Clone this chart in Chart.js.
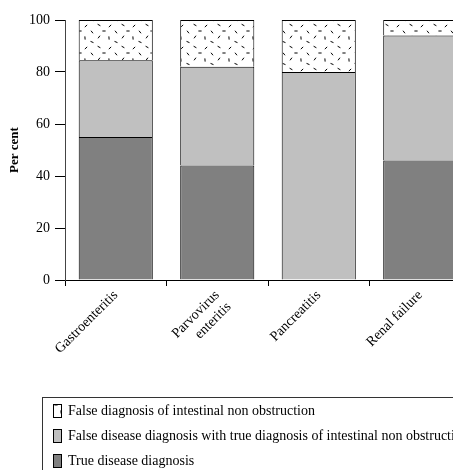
<!DOCTYPE html>
<html>
<head>
<meta charset="utf-8">
<script src="https://cdn.jsdelivr.net/npm/chart.js@4.4.0/dist/chart.umd.min.js"></script>
<style>
    html, body { margin: 0; padding: 0; background: #fff; overflow: hidden; }
</style>
</head>
<body>
<canvas id="diagnosisChart" width="500" height="470"></canvas>
<script>
// Chart data (per cent of cases)
const categories = ['Gastroenteritis', ['Parvovirus', 'enteritis'], 'Pancreatitis', 'Renal failure'];
const trueDisease = [55, 44, 0, 46];
const falseDiseaseTrueObstruction = [29.5, 38, 80, 48];
const falseObstruction = [15.5, 18, 20, 6];
const yTicks = [0, 20, 40, 60, 80, 100];
const seriesNames = [
    'True disease diagnosis',
    'False disease diagnosis with true diagnosis of intestinal non obstruction',
    'False diagnosis of intestinal non obstruction'
];

const serif = 'Liberation Serif, Times New Roman, serif';

// White fill with small scattered dashes
function makeDashPattern() {
    const c = document.createElement('canvas');
    c.width = 24;
    c.height = 22;
    const g = c.getContext('2d');
    g.fillStyle = '#fff';
    g.fillRect(0, 0, c.width, c.height);
    g.strokeStyle = '#000';
    g.lineWidth = 1;
    const dashes = [[3, 3, 0.5], [14, 4, 2.4], [8, 9, 0], [20, 10, 0.9], [3, 15, 2.2], [13, 16, 1.5], [20, 20, 0.4]];
    dashes.forEach(function(d) {
        const dx = Math.cos(d[2]) * 1.6, dy = Math.sin(d[2]) * 1.6;
        g.beginPath();
        g.moveTo(d[0] - dx, d[1] - dy);
        g.lineTo(d[0] + dx, d[1] + dy);
        g.stroke();
    });
    return g.createPattern(c, 'repeat');
}

// Framed legend below the plot
const framedLegend = {
    id: 'framedLegend',
    afterDraw(chart) {
        const ctx = chart.ctx;
        const left = 42, top = 397;
        ctx.save();
        ctx.strokeStyle = '#333';
        ctx.lineWidth = 1;
        ctx.strokeRect(left + 0.5, top + 0.5, 600, 200);
        ctx.font = '14px ' + serif;
        ctx.textBaseline = 'middle';
        const sets = chart.data.datasets.slice().reverse();
        sets.forEach(function(ds, i) {
            const y = top + 7 + i * 25;
            ctx.fillStyle = ds.backgroundColor;
            ctx.fillRect(left + 11.5, y + 0.5, 8, 13);
            ctx.strokeStyle = '#000';
            ctx.strokeRect(left + 11.5, y + 0.5, 8, 13);
            ctx.fillStyle = '#000';
            ctx.fillText(ds.label, left + 26, y + 7.5);
        });
        ctx.restore();
    }
};

document.addEventListener('DOMContentLoaded', function() {
    const ctx = document.getElementById('diagnosisChart');
    const barStyle = {
        borderColor: '#000',
        borderWidth: 1,
        borderSkipped: 'start',
        categoryPercentage: 1,
        barPercentage: 0.73
    };

    new Chart(ctx, {
        type: 'bar',
        data: {
            labels: categories,
            datasets: [
                Object.assign({ label: seriesNames[0], data: trueDisease, backgroundColor: '#808080' }, barStyle),
                Object.assign({ label: seriesNames[1], data: falseDiseaseTrueObstruction, backgroundColor: '#c0c0c0' }, barStyle),
                Object.assign({ label: seriesNames[2], data: falseObstruction, backgroundColor: makeDashPattern() }, barStyle)
            ]
        },
        options: {
            responsive: false,
            animation: false,
            layout: { padding: { top: 20, right: 29, bottom: 90, left: 0 } },
            plugins: {
                legend: { display: false },
                tooltip: { enabled: false }
            },
            scales: {
                x: {
                    stacked: true,
                    afterFit: function(scale) { scale.height = 100; },
                    grid: {
                        offset: true,
                        drawOnChartArea: false,
                        drawTicks: true,
                        tickLength: 6,
                        color: '#000'
                    },
                    border: { display: true, color: '#000', width: 1 },
                    ticks: {
                        color: '#000',
                        font: { family: serif, size: 14 },
                        minRotation: 45,
                        maxRotation: 45,
                        padding: 1,
                        autoSkip: false
                    }
                },
                y: {
                    stacked: true,
                    min: 0,
                    max: 100,
                    afterFit: function(scale) { scale.width = 65; },
                    afterBuildTicks: function(scale) {
                        scale.ticks = yTicks.map(function(v) { return { value: v }; });
                    },
                    grid: {
                        drawOnChartArea: false,
                        drawTicks: true,
                        tickLength: 10,
                        color: '#000'
                    },
                    border: { display: true, color: '#444', width: 1 },
                    ticks: {
                        color: '#000',
                        font: { family: serif, size: 14 },
                        padding: 5
                    },
                    title: {
                        display: true,
                        text: 'Per cent',
                        color: '#000',
                        font: { family: serif, size: 13, weight: 'bold' },
                        padding: { top: 7, bottom: 0 }
                    }
                }
            }
        },
        plugins: [framedLegend]
    });
});
</script>
</body>
</html>
